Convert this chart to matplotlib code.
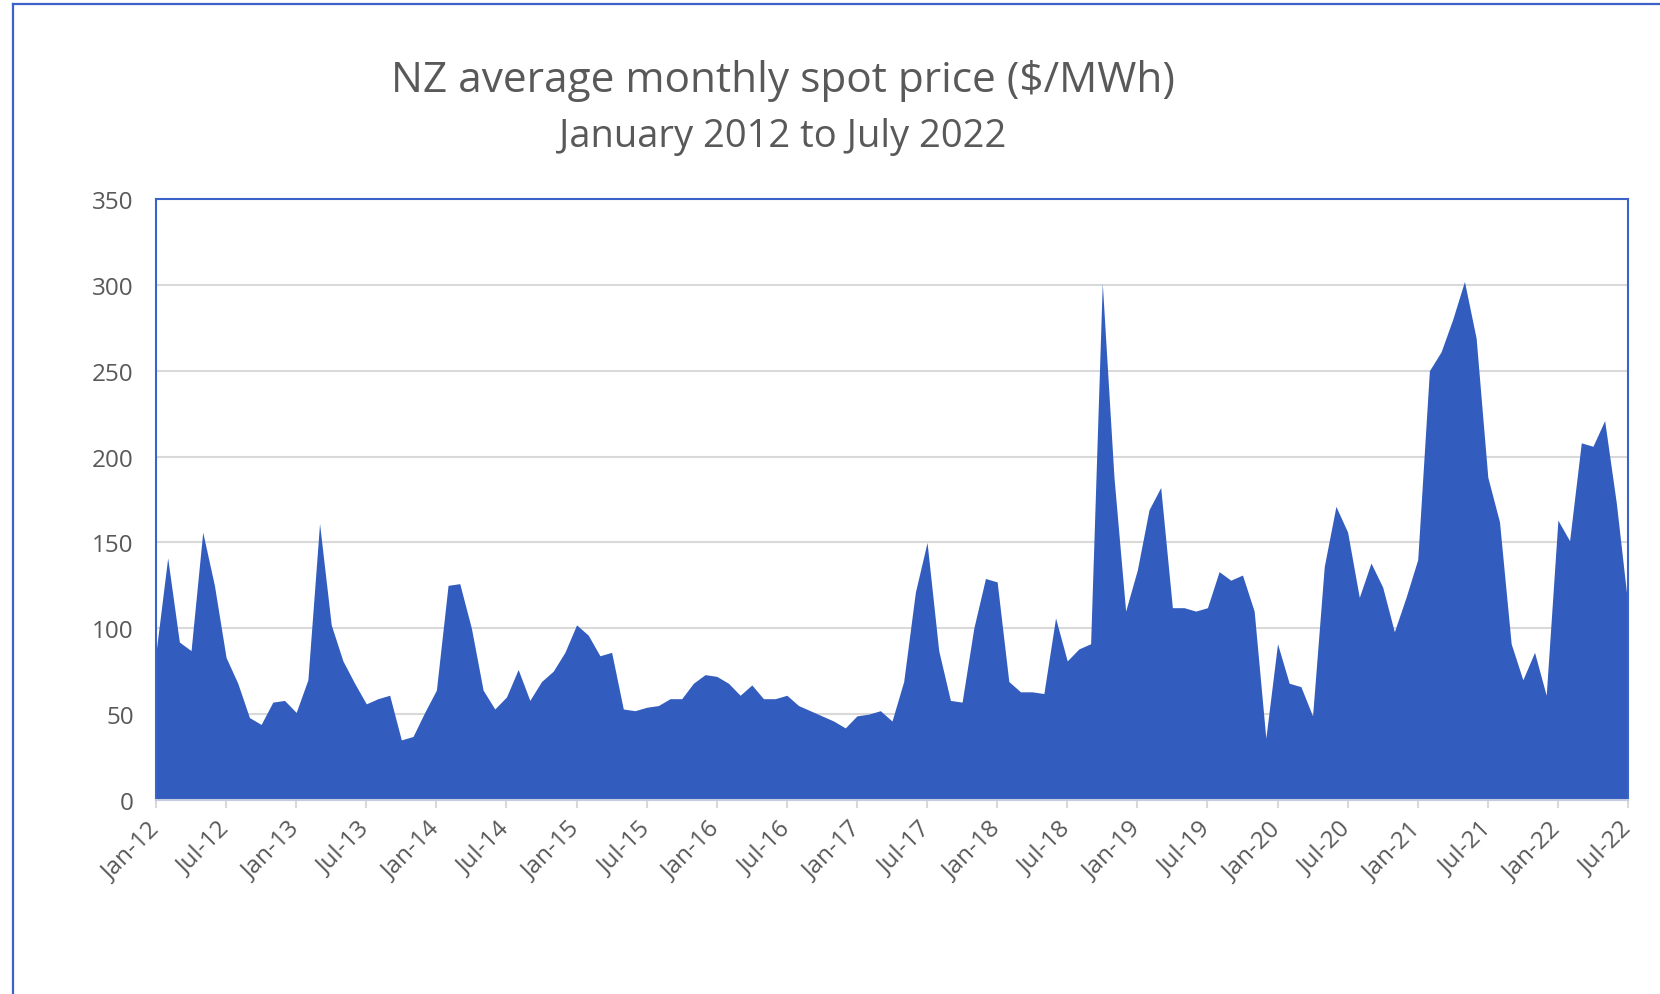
import matplotlib
matplotlib.use("Agg")
import matplotlib.pyplot as plt
from matplotlib.lines import Line2D

# ---- data ----
months = ["Jan", "Feb", "Mar", "Apr", "May", "Jun", "Jul", "Aug", "Sep", "Oct", "Nov", "Dec"]
years = list(range(2012, 2023))
categories = [f"{m}-{str(y)[2:]}" for y in years for m in months][:127]  # Jan-12 .. Jul-22

prices = [
    86, 141, 92, 87, 156, 125, 83, 68, 48, 44, 57, 58,          # 2012
    51, 70, 161, 102, 81, 68, 56, 59, 61, 35, 37, 51,           # 2013
    64, 125, 126, 100, 64, 53, 60, 76, 58, 69, 75, 86,          # 2014
    102, 96, 84, 86, 53, 52, 54, 55, 59, 59, 68, 73,            # 2015
    72, 68, 61, 67, 59, 59, 61, 55, 52, 49, 46, 42,             # 2016
    49, 50, 52, 46, 69, 121, 150, 87, 58, 57, 100, 129,         # 2017
    127, 69, 63, 63, 62, 106, 81, 88, 91, 301, 188, 110,        # 2018
    134, 169, 182, 112, 112, 110, 112, 133, 128, 131, 110, 36,  # 2019
    91, 68, 66, 49, 136, 171, 156, 118, 138, 124, 98, 118,      # 2020
    140, 250, 261, 280, 302, 269, 188, 162, 91, 70, 86, 61,     # 2021
    163, 151, 208, 206, 221, 173, 113,                          # 2022
]
tick_labels = categories[::6]
y_ticks = [0, 50, 100, 150, 200, 250, 300, 350]

title = "NZ average monthly spot price ($/MWh)"
subtitle = "January 2012 to July 2022"

# ---- style ----
W, H = 1660, 995
DPI = 100
fill_color = "#325cbe"
frame_color = "#3a62c8"
text_color = "#595959"
grid_color = "#d9d9d9"
FONT = ["Open Sans", "DejaVu Sans"]
plt.rcParams["font.family"] = FONT

fig = plt.figure(figsize=(W / DPI, H / DPI), dpi=DPI)
fig.patch.set_facecolor("white")

left, right, top, bottom = 156, 1628, 200, 801
ax = fig.add_axes([left / W, 1 - bottom / H, (right - left) / W, (bottom - top) / H])

x = list(range(len(prices)))
ax.fill_between(x, 0, prices, color=fill_color, linewidth=0)
ax.set_xlim(0, len(prices) - 1)
ax.set_ylim(0, 350)

ax.set_yticks(y_ticks)
ax.set_yticklabels([str(v) for v in y_ticks])
ax.set_xticks(x[::6])
ax.set_xticklabels(tick_labels, rotation=45, ha="right", va="center", rotation_mode="anchor")

ax.grid(axis="y", color=grid_color, linewidth=1.5)
ax.set_axisbelow(True)
ax.tick_params(axis="y", length=0, pad=16, labelsize=17.5, labelcolor=text_color)
ax.tick_params(axis="x", length=6, width=1.5, color=grid_color, pad=12,
               labelsize=17.5, labelcolor=text_color)

for s in ["left", "top", "right"]:
    ax.spines[s].set_color(frame_color)
    ax.spines[s].set_linewidth(1.5)
ax.spines["bottom"].set_color("#c3cbe0")
ax.spines["bottom"].set_linewidth(1.5)

# outer chart border (top and left edges visible)
fig.add_artist(Line2D([13 / W, 1.0], [1 - 5 / H, 1 - 5 / H], transform=fig.transFigure,
                      color=frame_color, linewidth=1.6))
fig.add_artist(Line2D([13 / W, 13 / W], [1 - 5 / H, 0.0], transform=fig.transFigure,
                      color=frame_color, linewidth=1.6))

# titles, sized to fit target widths
renderer = fig.canvas.get_renderer()

def fit_text(s, cx, cy, target_w, size0):
    t = fig.text(cx / W, 1 - cy / H, s, ha="center", va="center", fontsize=size0,
                 color=text_color, family=FONT)
    w = t.get_window_extent(renderer=renderer).width
    t.set_fontsize(size0 * target_w / w)
    return t

fit_text(title, 783, 81, 783, 28)
fit_text(subtitle, 783, 137, 445, 22)

fig.savefig("out.png", dpi=DPI, facecolor="white")
